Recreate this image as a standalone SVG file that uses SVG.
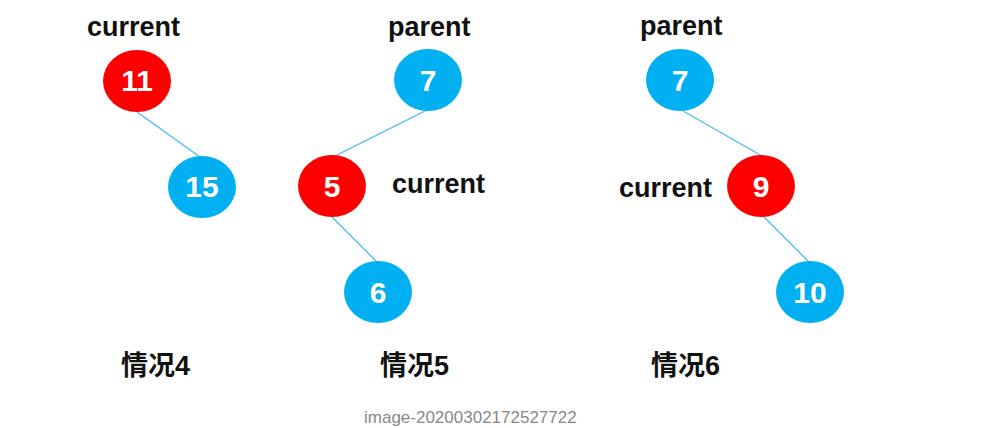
<svg xmlns="http://www.w3.org/2000/svg" width="1007" height="428" viewBox="0 0 1007 428">
<style>
.red{fill:#FF0000}
.blue{fill:#00B0F0}
.num{fill:#FFFFFF;font-family:"Liberation Sans",Arial,sans-serif;font-weight:bold;font-size:30px;text-anchor:middle}
.lbl{fill:#111111;font-family:"Liberation Sans",Arial,sans-serif;font-weight:bold;font-size:27px}
.case{fill:#111111;font-family:"Liberation Sans","Noto Sans CJK SC",sans-serif;font-weight:bold;font-size:27px}
.cap{fill:#888888;font-family:"Liberation Sans",Arial,sans-serif;font-size:17px}
.edge{stroke:#45BDF0;stroke-width:1.3;fill:none}
</style>
<rect width="1007" height="428" fill="#FFFFFF"/>
<g id="connectors">
<line class="edge" x1="137" y1="112" x2="200" y2="157"/>
<line class="edge" x1="427" y1="110" x2="333" y2="157"/>
<line class="edge" x1="332" y1="217" x2="377" y2="262"/>
<line class="edge" x1="683" y1="111" x2="762" y2="156"/>
<line class="edge" x1="764" y1="217" x2="809" y2="262"/>
</g>
<g id="n11"><ellipse class="red" cx="137" cy="81" rx="34" ry="31"/><text class="num" x="137" y="91">11</text></g>
<g id="n15"><ellipse class="blue" cx="202" cy="187" rx="34" ry="31"/><text class="num" x="202" y="197">15</text></g>
<g id="n7a"><ellipse class="blue" cx="428" cy="80" rx="34" ry="31"/><text class="num" x="428" y="91">7</text></g>
<g id="n5"><ellipse class="red" cx="332" cy="186" rx="34" ry="31"/><text class="num" x="332" y="197">5</text></g>
<g id="n6"><ellipse class="blue" cx="378" cy="292" rx="34" ry="31"/><text class="num" x="378" y="303">6</text></g>
<g id="n7b"><ellipse class="blue" cx="680" cy="80" rx="34" ry="31"/><text class="num" x="680" y="91">7</text></g>
<g id="n9"><ellipse class="red" cx="761" cy="186" rx="34" ry="31"/><text class="num" x="761" y="197">9</text></g>
<g id="n10"><ellipse class="blue" cx="810" cy="292" rx="34" ry="31"/><text class="num" x="810" y="303">10</text></g>
<g id="labels">
<text class="lbl" x="87" y="36">current</text>
<text class="lbl" x="388" y="36">parent</text>
<text class="lbl" x="392" y="193">current</text>
<text class="lbl" x="640" y="35">parent</text>
<text class="lbl" x="619" y="197">current</text>
<text class="case" x="121" y="375">情况4</text>
<text class="case" x="380" y="375">情况5</text>
<text class="case" x="651" y="375">情况6</text>
<text class="cap" x="364" y="423">image-20200302172527722</text>
</g>
</svg>
